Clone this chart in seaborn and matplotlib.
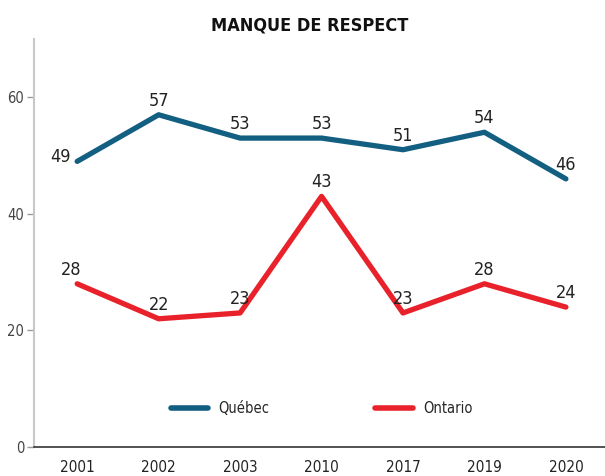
import matplotlib
matplotlib.use("Agg")
import matplotlib.pyplot as plt
import seaborn as sns
import pandas as pd

years = ["2001", "2002", "2003", "2010", "2017", "2019", "2020"]
quebec = [49, 57, 53, 53, 51, 54, 46]
ontario = [28, 22, 23, 43, 23, 28, 24]
series_names = ["Québec", "Ontario"]
colors = ["#135f82", "#e8212a"]
yticks = [0, 20, 40, 60]
title = "MANQUE DE RESPECT"

sns.set_theme(style="white")
plt.rcParams["font.family"] = ["DejaVu Sans"]
plt.rcParams["font.stretch"] = "condensed"

df = pd.DataFrame({
    "year": years * 2,
    "value": quebec + ontario,
    "region": [series_names[0]] * len(years) + [series_names[1]] * len(years),
})

fig = plt.figure(figsize=(6.05, 4.76), dpi=100)
ax = fig.add_axes([34 / 605, 29 / 476, 571 / 605, 408 / 476])

sns.lineplot(data=df, x="year", y="value", hue="region", palette=colors,
             linewidth=3.8, ax=ax, sort=False, legend=True)

ax.set_ylim(0, 70)
ax.set_xlim(-0.53, 6.48)
ax.set_yticks(yticks)
ax.set_xlabel("")
ax.set_ylabel("")

for s in ["top", "right"]:
    ax.spines[s].set_visible(False)
ax.spines["left"].set_color("#c8c8c8")
ax.spines["left"].set_linewidth(1.5)
ax.spines["bottom"].set_color("#333333")
ax.spines["bottom"].set_linewidth(1.2)

ax.tick_params(axis="y", left=True, length=5, width=1, color="#999999",
               labelsize=10.5, labelcolor="#444444", pad=2)
ax.tick_params(axis="x", bottom=False, labelsize=11, labelcolor="#222222", pad=3)

for i, v in enumerate(quebec):
    if i == 0:
        ax.annotate(str(v), (i, v), xytext=(-12, 3), textcoords="offset points",
                    ha="center", va="center", fontsize=13, color="#222222")
    else:
        ax.annotate(str(v), (i, v), xytext=(0, 10), textcoords="offset points",
                    ha="center", va="center", fontsize=13, color="#222222")
for i, v in enumerate(ontario):
    dx = -4 if i == 0 else 0
    ax.annotate(str(v), (i, v), xytext=(dx, 10), textcoords="offset points",
                ha="center", va="center", fontsize=13, color="#222222")

leg = ax.legend(loc="center", bbox_to_anchor=(0.504, 0.095), ncol=2, frameon=False,
                fontsize=10.5, handlelength=2.6, columnspacing=7.25, handletextpad=0.7,
                title=None)
for line in leg.get_lines():
    line.set_linewidth(4)

fig.text(0.512, 0.947, title, ha="center", va="center", fontsize=13,
         fontweight="bold", color="#111111")

fig.savefig("out.png", dpi=100)
